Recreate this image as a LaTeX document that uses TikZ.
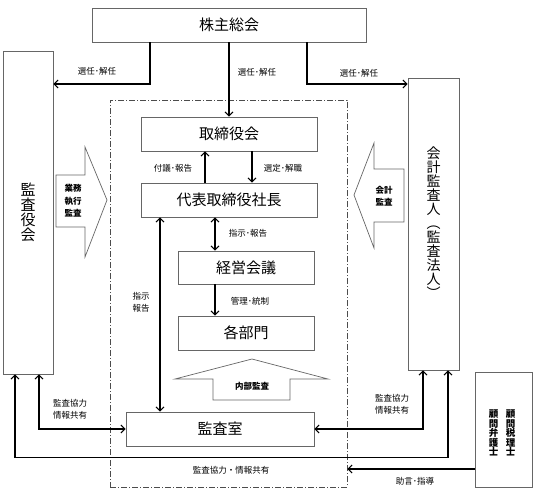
\documentclass[tikz,border=0pt]{standalone}
\usepackage{fontspec}
\setmainfont{Noto Sans CJK JP}
\usetikzlibrary{arrows.meta,calc}
\begin{document}
\begin{tikzpicture}[x=1pt,y=-1pt,
  box/.style={draw=black!60,line width=0.8pt,rectangle,inner sep=0pt,font=\fontsize{15}{15}\selectfont},
  lbl/.style={font=\fontsize{8.5}{12}\selectfont,align=center,inner sep=0pt},
  blbl/.style={font=\bfseries\fontsize{8.5}{12.5}\selectfont,align=center,inner sep=0pt},
  vtxt/.style={align=center,inner sep=0pt},
  arr/.style={line width=1.1pt,-{Straight Barb[length=4pt,width=8pt,line width=1pt]}},
  darr/.style={line width=1.1pt,{Straight Barb[length=4pt,width=8pt,line width=1pt]}-{Straight Barb[length=4pt,width=8pt,line width=1pt]}},
  blk/.style={draw=black!60,line width=0.7pt,fill=white}]
\useasboundingbox (0,0) rectangle (560,491);
% frame
\node[draw=black!70,line width=0.8pt,dash pattern=on 6pt off 2pt on 1pt off 2pt,minimum width=237pt,minimum height=387pt,inner sep=0pt] (frame) at (228.5,293.5) {};
% boxes
\node[box,minimum width=274pt,minimum height=34pt] (kabu) at (229,25) {株主総会};
\node[box,minimum width=50pt,minimum height=323pt] (kansa) at (28,212.5) {};
\node[vtxt,font=\fontsize{15}{15}\selectfont] (kansat) at (28,212) {監\\査\\役\\会};
\node[box,minimum width=51pt,minimum height=292pt] (kaikei) at (433.5,224) {};
\node[vtxt,font=\fontsize{14}{14}\selectfont] (kaikeit) at (433.5,223) {会\\計\\監\\査\\人\\︵\\監\\査\\法\\人\\︶};
\node[box,minimum width=176pt,minimum height=34pt] (tori) at (229,134) {取締役会};
\node[box,minimum width=176pt,minimum height=34pt] (daihyo) at (229,200) {代表取締役社長};
\node[box,minimum width=136pt,minimum height=33pt] (keiei) at (246,267.5) {経営会議};
\node[box,minimum width=136pt,minimum height=34pt] (kakubu) at (246,333) {各部門};
\node[box,minimum width=188pt,minimum height=34pt] (shitsu) at (220,429) {監査室};
\node[box,minimum width=57pt,minimum height=115pt] (komon) at (503.5,430) {};
\node[vtxt,font=\bfseries\fontsize{9.5}{9.5}\selectfont] (komon1) at (510.5,433) {顧\\問\\税\\理\\士};
\node[vtxt,font=\bfseries\fontsize{9.5}{9.5}\selectfont] (komon2) at (493.5,433) {顧\\問\\弁\\護\\士};
% block arrows
\draw[blk] (56,175)--(85,175)--(85,147)--(107,200)--(85,257)--(85,227)--(56,227)--cycle;
\node[blbl] (gyomu) at (73,201) {業務\\執行\\監査};
\draw[blk] (404,169)--(374,169)--(374,143)--(354,195)--(374,248)--(374,222)--(404,222)--cycle;
\node[blbl] (kaikeik) at (384,196) {会計\\監査};
\draw[blk] (252,359)--(328,379)--(290,379)--(290,400)--(213,400)--(213,379)--(175,379)--cycle;
\node[blbl] (naibu) at (252,386) {内部監査};
% connectors
\coordinate (y84) at (0,84);
\draw[arr] ([xshift=-79pt]kabu.south) |- (kansa.east |- y84);
\draw[arr] (kabu.south) -- (tori.north);
\draw[arr] ([xshift=78pt]kabu.south) |- (kaikei.west |- y84);
\draw[arr] ([xshift=-24pt]daihyo.north) -- ([xshift=-24pt]tori.south);
\draw[arr] ([xshift=23pt]tori.south) -- ([xshift=23pt]daihyo.north);
\draw[darr] ([xshift=-14pt]daihyo.south) -- ([xshift=-31pt]keiei.north);
\draw[arr] ([xshift=-31pt]keiei.south) -- ([xshift=-31pt]kakubu.north);
\draw[darr] ([xshift=-69pt]daihyo.south) -- ([xshift=-60pt]shitsu.north);
\draw[darr] ([xshift=11pt]kansa.south) |- (shitsu.west);
\draw[darr] ([xshift=-10.5pt]kaikei.south) |- (shitsu.east);
\draw[darr] ([xshift=-13pt]kansa.south) -- ++(0,83) -| ([xshift=14.5pt]kaikei.south);
\coordinate (k1) at ([yshift=-39pt]komon.west);
\draw[arr] (k1) -- (frame.east |- k1);
% labels
\node[lbl] (l1) at (97,71) {選任･解任};
\node[lbl] (l2) at (257,72) {選任･解任};
\node[lbl] (l3) at (359,73) {選任･解任};
\node[lbl] (l4) at (173,168) {付議･報告};
\node[lbl] (l5) at (283,168) {選定･解職};
\node[lbl] (l6) at (248,233) {指示･報告};
\node[lbl] (l7) at (250,301) {管理･統制};
\node[lbl] (l8) at (141,302) {指示\\報告};
\node[lbl] (l9) at (70,409) {監査協力\\情報共有};
\node[lbl] (l10) at (392,404) {監査協力\\情報共有};
\node[lbl] (l11) at (231,470) {監査協力・情報共有};
\node[lbl] (l12) at (415,481) {助言･指導};
\end{tikzpicture}
\end{document}
